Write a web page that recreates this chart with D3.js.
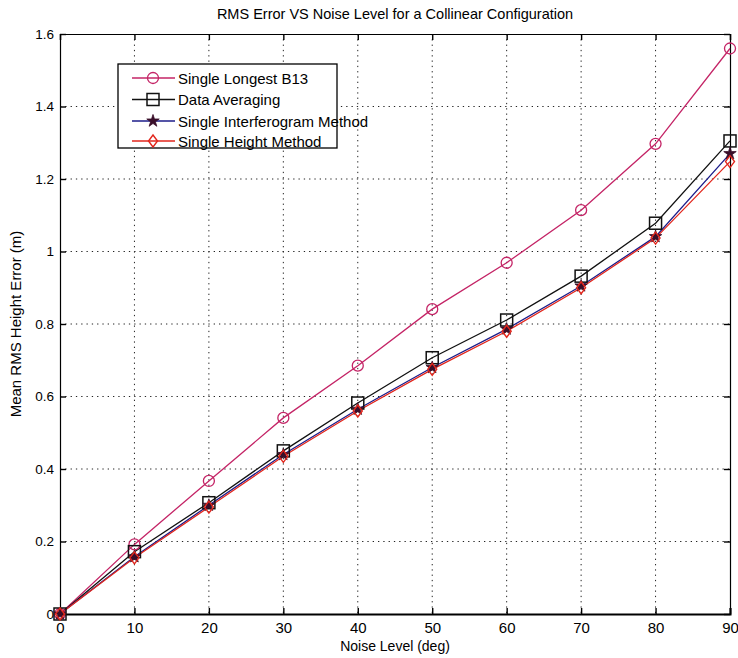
<!DOCTYPE html>
<html><head><meta charset="utf-8">
<script src="https://cdn.jsdelivr.net/npm/d3@7"></script>
<style>
body{margin:0;background:#fff;}
text{font-family:"Liberation Sans",Arial,sans-serif;fill:#000;}
</style></head>
<body>
<svg id="chart" width="738" height="658"></svg>
<script>
const noiseLevels = [0,10,20,30,40,50,60,70,80,90];
const singleLongestB13 = [0,0.192,0.367,0.541,0.685,0.841,0.969,1.114,1.297,1.560];
const dataAveraging = [0,0.172,0.307,0.450,0.582,0.707,0.811,0.932,1.078,1.305];
const singleInterferogram = [0,0.158,0.300,0.440,0.565,0.680,0.786,0.905,1.041,1.270];
const singleHeight = [0,0.155,0.295,0.435,0.560,0.675,0.780,0.900,1.037,1.248];
const xTicks = [0,10,20,30,40,50,60,70,80,90];
const yTicks = [0,0.2,0.4,0.6,0.8,1,1.2,1.4,1.6];
const seriesNames = ["Single Longest B13","Data Averaging","Single Interferogram Method","Single Height Method"];

const svg = d3.select("#chart");
const m = {left:60, right:730, top:34, bottom:614};
const x = d3.scaleLinear().domain([0,90]).range([m.left,m.right]);
const y = d3.scaleLinear().domain([0,1.6]).range([m.bottom,m.top]);

// grid
const g = svg.append("g");
g.selectAll(".gx").data(xTicks.slice(1,-1)).enter().append("line")
  .attr("x1",d=>x(d)).attr("x2",d=>x(d)).attr("y1",m.top).attr("y2",m.bottom)
  .attr("stroke","#222").attr("stroke-width",1).attr("stroke-dasharray","1.3,4");
g.selectAll(".gy").data(yTicks.slice(1,-1)).enter().append("line")
  .attr("y1",d=>y(d)).attr("y2",d=>y(d)).attr("x1",m.left).attr("x2",m.right)
  .attr("stroke","#222").attr("stroke-width",1).attr("stroke-dasharray","1.3,4");

// axes
const xAxisB = d3.axisBottom(x).tickValues(xTicks).tickSize(-6).tickPadding(8).tickFormat(d3.format("d"));
const xAxisT = d3.axisTop(x).tickValues(xTicks).tickSize(-6).tickFormat("");
const yAxisL = d3.axisLeft(y).tickValues(yTicks).tickSize(-6).tickPadding(6).tickFormat(d=>d===0?"0":(d===1?"1":d3.format(".1f")(d)));
const yAxisR = d3.axisRight(y).tickValues(yTicks).tickSize(-6).tickFormat("");
function style(sel){sel.select(".domain").attr("stroke","#000").attr("stroke-width",1.2);
  sel.selectAll(".tick line").attr("stroke","#000").attr("stroke-width",1.4);
  sel.selectAll("text").attr("fill","#000");}
const gxB = svg.append("g").attr("transform",`translate(0,${m.bottom})`).call(xAxisB).call(style);
gxB.select(".domain").attr("stroke-width",2);
gxB.selectAll(".tick text").style("font-size","15px").attr("transform","scale(0.85,1)")
  .attr("x",0);
gxB.selectAll(".tick").each(function(d){
  d3.select(this).select("text").attr("transform",null).style("font-stretch","condensed");
});
svg.append("g").attr("transform",`translate(0,${m.top})`).call(xAxisT).call(style);
const gyL = svg.append("g").attr("transform",`translate(${m.left},0)`).call(yAxisL).call(style);
gyL.selectAll("text").style("font-size","13.5px");
svg.append("g").attr("transform",`translate(${m.right},0)`).call(yAxisR).call(style);

// series
const cB13="#c42466", cBlk="#111", cBlue="#1c1c8a", cRed="#e2261c";
const series = [
 {name:seriesNames[0], vals:singleLongestB13, color:cB13, marker:"circle"},
 {name:seriesNames[1], vals:dataAveraging, color:cBlk, marker:"square"},
 {name:seriesNames[2], vals:singleInterferogram, color:cBlue, marker:"star"},
 {name:seriesNames[3], vals:singleHeight, color:cRed, marker:"diamond"}
];
function drawMarker(sel, type, color){
  if(type==="circle"){sel.append("circle").attr("r",5.5).attr("fill","none").attr("stroke",color).attr("stroke-width",1.3);}
  else if(type==="square"){sel.append("rect").attr("x",-6).attr("y",-6).attr("width",12).attr("height",12).attr("fill","none").attr("stroke",color).attr("stroke-width",1.5);}
  else if(type==="diamond"){sel.append("path").attr("d","M0,-6L4.5,0L0,6L-4.5,0Z").attr("fill","none").attr("stroke",color).attr("stroke-width",1.4);}
  else if(type==="star"){sel.append("path").attr("d",d3.symbol().type(d3.symbolStar).size(48)()).attr("fill","#3a0f2a").attr("stroke","#3a0f2a").attr("stroke-width",0.8);}
}
const line = d3.line().x((d,i)=>x(noiseLevels[i])).y(d=>y(d));
series.forEach(s=>{
  svg.append("path").datum(s.vals).attr("d",line).attr("fill","none").attr("stroke",s.color).attr("stroke-width",1.3);
});
series.forEach(s=>{
  s.vals.forEach((v,i)=>{
    const mg=svg.append("g").attr("transform",`translate(${x(noiseLevels[i])},${y(v)})`);
    drawMarker(mg,s.marker,s.color);
  });
});

// legend
const lg = svg.append("g");
lg.append("rect").attr("x",118).attr("y",64).attr("width",219).attr("height",84).attr("fill","#fff").attr("stroke","#000").attr("stroke-width",1.3);
const ly=[78,99.5,121,141];
series.forEach((s,i)=>{
  lg.append("line").attr("x1",132).attr("x2",175).attr("y1",ly[i]).attr("y2",ly[i]).attr("stroke",s.color).attr("stroke-width",1.3);
  drawMarker(lg.append("g").attr("transform",`translate(153,${ly[i]})`), s.marker, s.color);
  lg.append("text").attr("x",178).attr("y",ly[i]+5.5).style("font-size","15px").text(s.name);
});

// titles
svg.append("text").attr("x",(m.left+m.right)/2).attr("y",19).attr("text-anchor","middle").style("font-size","14.5px").text("RMS Error VS Noise Level for a Collinear Configuration");
svg.append("text").attr("x",(m.left+m.right)/2).attr("y",651).attr("text-anchor","middle").style("font-size","14px").text("Noise Level (deg)");
svg.append("text").attr("transform",`translate(21,${(m.top+m.bottom)/2}) rotate(-90)`).attr("text-anchor","middle").style("font-size","15px").text("Mean RMS Height Error (m)");
</script>
</body></html>
